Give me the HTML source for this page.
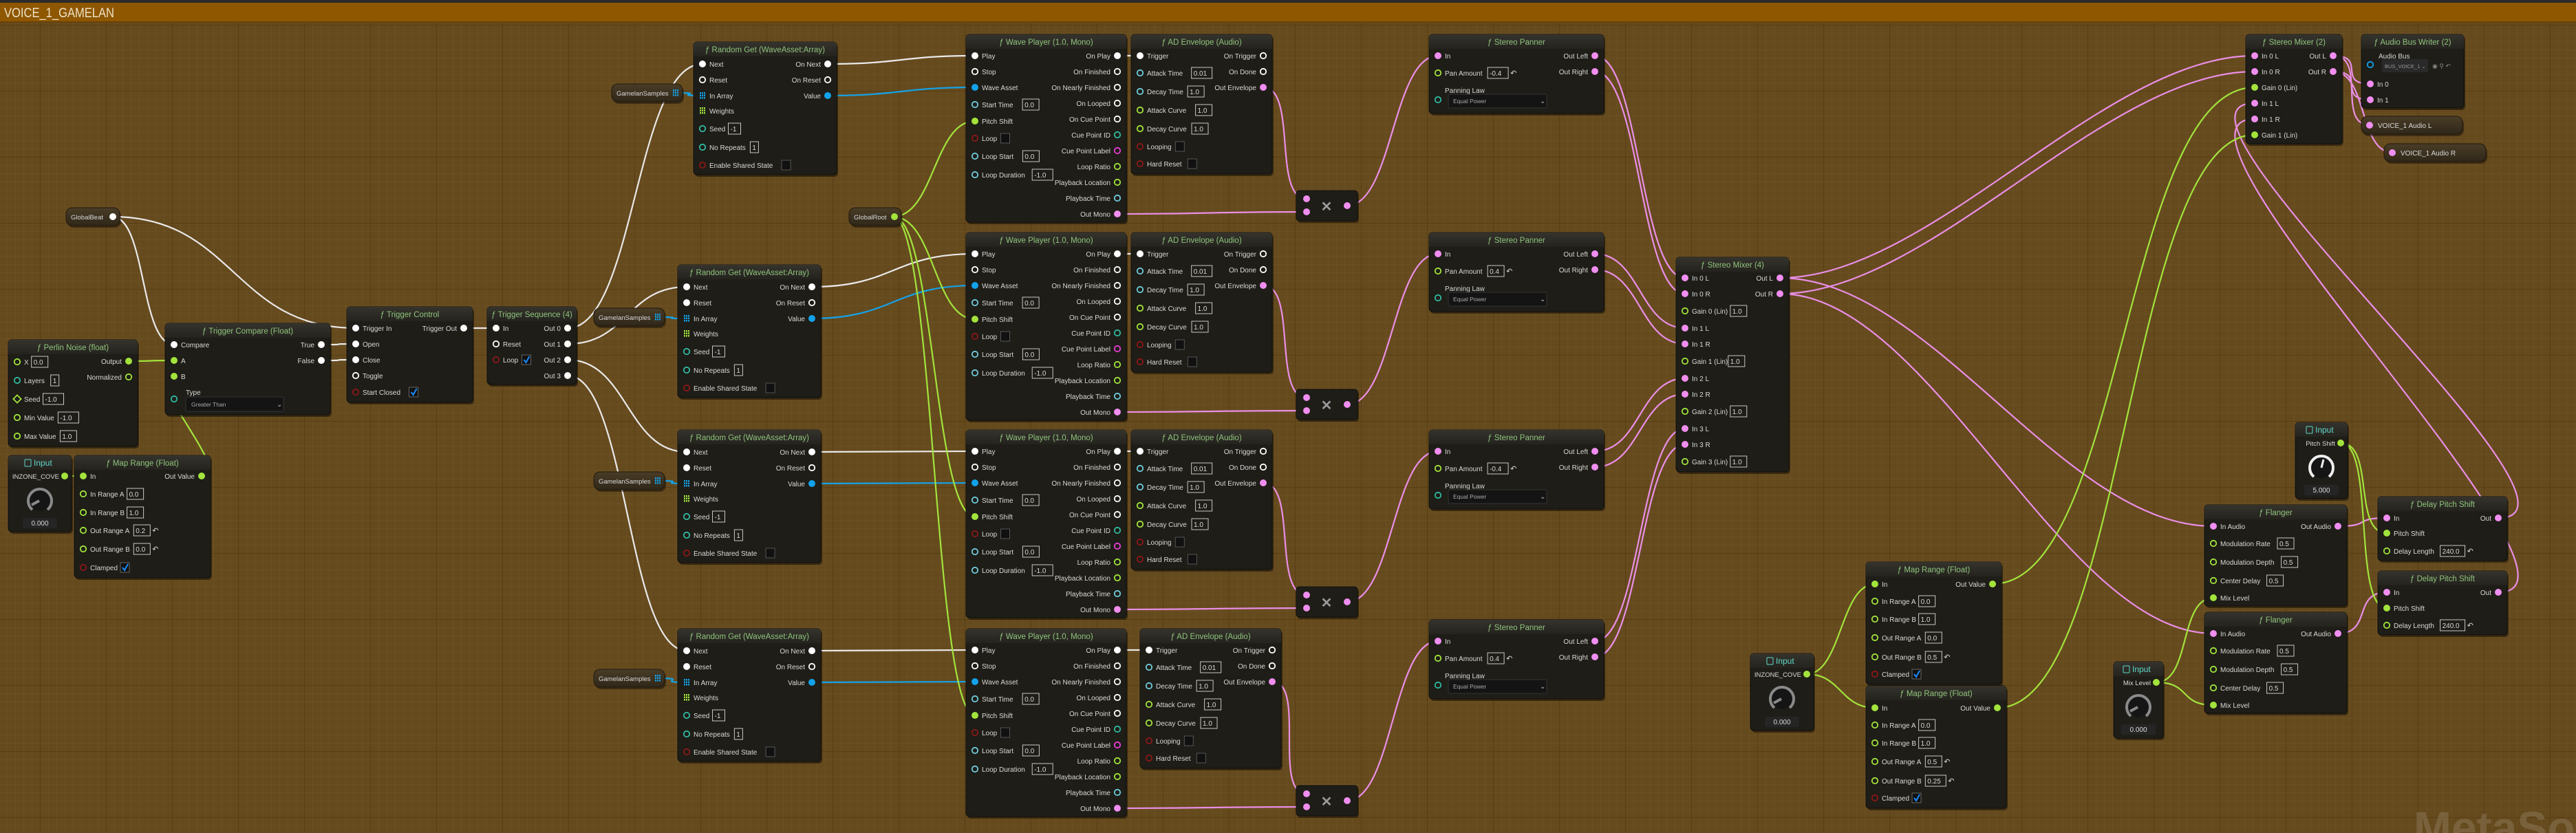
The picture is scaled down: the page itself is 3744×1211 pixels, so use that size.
<!DOCTYPE html>
<html><head><meta charset="utf-8"><style>
html,body{margin:0;padding:0;background:#654a1e;overflow:hidden}
svg{display:block}
text{font-family:"Liberation Sans",sans-serif}
</style></head><body>
<svg id="g" xmlns="http://www.w3.org/2000/svg" width="3744" height="1211" viewBox="0 0 3744 1211">
<defs>
<pattern id="minor" x="10" y="0" width="12" height="12" patternUnits="userSpaceOnUse"><path d="M0 0H12M0 0V12" stroke="#715529" stroke-width="1" fill="none"/></pattern>
<pattern id="major" x="58" y="36" width="96" height="96" patternUnits="userSpaceOnUse"><path d="M0 0H96M0 0V96" stroke="#553912" stroke-width="1.5" fill="none"/></pattern>
<linearGradient id="hd" x1="0" y1="0" x2="0" y2="1"><stop offset="0" stop-color="#35332c"/><stop offset="1" stop-color="#24231e"/></linearGradient>
<linearGradient id="pl" x1="0" y1="0" x2="0" y2="1"><stop offset="0" stop-color="#4a3d27"/><stop offset="1" stop-color="#2f2719"/></linearGradient>
</defs>
<rect width="3744" height="1211" fill="#654a1e"/>
<rect width="3744" height="1211" fill="url(#minor)"/>
<rect width="3744" height="1211" fill="url(#major)"/>
<rect x="0" y="0" width="3744" height="4" fill="#2b2b2b"/>
<rect x="0" y="4" width="3744" height="28" fill="#8e5700"/>
<rect x="0" y="31" width="3744" height="2" fill="#6a4106"/>
<text x="6" y="25" font-size="19" fill="#eee2c8" textLength="160" lengthAdjust="spacingAndGlyphs">VOICE_1_GAMELAN</text>
<g id="w"></g><g id="n"></g>
<text x="3508" y="1226" font-size="66" font-weight="bold" fill="#8a7456" opacity="0.55">MetaSound</text>
</svg>
<script>
var s='',ws='';
var C={x:'#ffffff',a:'#f08ef0',f:'#a2e43c',t:'#6fcbdc',i:'#2fb9a0',b:'#8b1818',w:'#12a2ea',m:'#e63cd4',ag:'#a2e43c',aw:'#12a2ea'};
function e(x){return x.replace(/&/g,'&amp;').replace(/</g,'&lt;')}
function T(x,y,str,o){o=o||{};s+='<text x="'+x+'" y="'+y+'" font-size="'+(o.sz||10)+'" fill="'+(o.c||'#d9d9d9')+'" text-anchor="'+(o.a||'start')+'"'+(o.b?' font-weight="bold"':'')+'>'+e(str)+'</text>';}
function R(x,y,w,h,f,st,rx){s+='<rect x="'+x+'" y="'+y+'" width="'+w+'" height="'+h+'" rx="'+(rx||0)+'" fill="'+f+'"'+(st?' stroke="'+st+'"':'')+'/>';}
function pin(x,y,ty,fl){
 if(ty=='aw'||ty=='ag'){var c=C[ty];for(var i=0;i<3;i++)for(var j=0;j<3;j++)s+='<rect x="'+(x-4+i*3)+'" y="'+(y-5+j*3.5)+'" width="2" height="2.5" fill="'+c+'"/>';return;}
 var c=C[ty];
 if(ty=='d'){s+='<rect x="'+(x-4)+'" y="'+(y-4)+'" width="8" height="8" transform="rotate(45 '+x+' '+y+')" fill="none" stroke="'+C.f+'" stroke-width="1.8"/>';return;}
 if(fl)s+='<circle cx="'+x+'" cy="'+y+'" r="5" fill="'+c+'"/>';
 else s+='<circle cx="'+x+'" cy="'+y+'" r="4.2" fill="none" stroke="'+c+'" stroke-width="1.8"/>';
}
function val(x,y,v){
 if(v=='chk'){R(x,y-7,13,14,'#111','#666');s+='<path d="M'+(x+3)+' '+(y)+'l3 4 5-9" stroke="#1a8cff" stroke-width="2" fill="none"/>';return;}
 if(v=='box'){R(x,y-7,13,14,'#111','#555');return;}
 var r=false;if(v.slice(-1)=='~'){r=true;v=v.slice(0,-1);}
 var w=v.length*6+6;
 s+='<rect x="'+x+'" y="'+(y-8)+'" width="'+w+'" height="16" fill="none" stroke="#c8c8c8" stroke-width="1"/>';
 T(x+3,y+4,v,{sz:10});
 if(r)T(x+w+3,y+4,'↶',{sz:11});
}
function tw(str){var w=0;for(var i=0;i<str.length;i++){var c=str[i];w+=(c==' '?2.8:/[il1\.I\(\)]/.test(c)?2.6:/[mwMW]/.test(c)?8.3:/[A-Z]/.test(c)?6.7:5.6);}return w;}
function N(x,y,w,h,title,L,Rr,inp){
 R(x+2,y+3,w,h,'rgba(0,0,0,0.45)',0,5);
 R(x,y,w,h,'#1e1d17','#0f0f0c',5);
 s+='<path d="M'+x+' '+(y+21)+'V'+(y+5)+'q0 -5 5 -5H'+(x+w-5)+'q5 0 5 5V'+(y+21)+'Z" fill="url(#hd)"/>';
 if(inp){R(x+w/2-22,y+6,9,10,'none','#5fd8c8',1);T(x+w/2-9,y+15,'Input',{sz:12,c:'#5fd8c8',b:0});}
 else T(x+w/2,y+15,'ƒ '+title,{sz:11.5,c:'#8fc47c',a:'middle'});
 (L||[]).forEach(function(r){var yy=y+r[0];pin(x+13,yy,r[2],r[3]);T(x+23,yy+4,r[1]);if(r[4]!==undefined)val(x+27+tw(r[1]),yy,r[4]);});
 (Rr||[]).forEach(function(r){var yy=y+r[0];pin(x+w-13,yy,r[2],r[3]);T(x+w-23,yy+4,r[1],{a:'end'});});
}
function pill(x,y,w,label,ty,left){
 R(x+2,y+3,w,26,'rgba(0,0,0,0.4)',0,9);
 R(x,y,w,26,'url(#pl)','#1e170c',9);
 if(left){pin(x+12,y+13,ty,1);T(x+24,y+17,label);}
 else{T(x+7,y+17,label,{sz:9.5});pin(x+w-10,y+13,ty,1);}
}
function knob(cx,cy,col){
 s+='<circle cx="'+cx+'" cy="'+cy+'" r="15" fill="#151515"/>';
 s+='<path d="M'+(cx-11)+' '+(cy+13)+'A17 17 0 1 1 '+(cx+11)+' '+(cy+13)+'" fill="none" stroke="'+col+'" stroke-width="4"/>';
}
function inputNode(x,y,w,h,label,v,white){
 N(x,y,w,h,'',[],[],1);
 T(x+w-18,y+34,label,{a:'end',sz:9.5});pin(x+w-10,y+30,'f',1);
 knob(x+w/2,y+66,white?'#eeeeee':'#8a8a8a');
 if(white)s+='<path d="M'+(x+w/2)+' '+(y+66)+'l3 -12" stroke="#eee" stroke-width="3"/>';
 else s+='<path d="M'+(x+w/2-12)+' '+(y+72)+'l11 -6" stroke="#8a8a8a" stroke-width="4"/>';
 R(x+w/2-25,y+h-20,50,15,'#252525',0,2);T(x+w/2,y+h-9,v,{a:'middle',sz:10});
}
function W(c,x1,y1,x2,y2){var d=Math.max(50,Math.min(220,Math.abs(x2-x1)*0.5));
 ws+='<path d="M'+x1+' '+y1+'C'+(x1+d)+' '+y1+' '+(x2-d)+' '+y2+' '+x2+' '+y2+'" fill="none" stroke="'+c+'" stroke-width="2.2"/>';}
var WX='#e9e9e9',WP='#ea8ee6',WG='#a2e43c',WB='#15a2e6';

pill(96,302,78,'GlobalBeat','x');
N(12,494,188,155,'Perlin Noise (float)',[[32,'X','f',0,'0.0'],[59,'Layers','i',0,'1'],[86,'Seed','d',0,'-1.0'],[113,'Min Value','f',0,'-1.0'],[140,'Max Value','f',0,'1.0']],[[31,'Output','f',1],[54,'Normalized','f',0]]);
inputNode(12,662,92,111,'INZONE_COVE','0.000');
N(108,662,198,178,'Map Range (Float)',[[30,'In','f',1],[56,'In Range A','f',0,'0.0'],[83,'In Range B','f',0,'1.0'],[109,'Out Range A','f',0,'0.2~'],[136,'Out Range B','f',0,'0.0~'],[163,'Clamped','b',0,'chk']],[[30,'Out Value','f',1]]);
N(240,470,240,133,'Trigger Compare (Float)',[[31,'Compare','x',1],[54,'A','f',1],[77,'B','f',1]],[[31,'True','x',1],[54,'False','x',1]]);
T(270,574,'Type');pin(253,580,'i',0);R(270,577,142,21,'#141414','#333',2);T(278,591,'Greater Than',{sz:8.5,c:'#aaa'});T(402,591,'⌄',{sz:10,c:'#bbb'});
N(504,446,183,139,'Trigger Control',[[31,'Trigger In','x',1],[54,'Open','x',1],[77,'Close','x',1],[100,'Toggle','x',0],[124,'Start Closed','b',0,'chk']],[[31,'Trigger Out','x',1]]);
N(708,446,130,113,'Trigger Sequence (4)',[[31,'In','x',1],[54,'Reset','x',0],[77,'Loop','b',0,'chk']],[[31,'Out 0','x',1],[54,'Out 1','x',1],[77,'Out 2','x',1],[100,'Out 3','x',1]]);

var RG=[[1008,61],[985,385],[985,625],[985,914]],GS=[[889,122],[863,448],[863,686],[863,973]];
var WY=[50,338,625,914],ADX=[1644,1644,1644,1657],MY=[277,566,853,1142],SY=[50,338,625,901],PAN=['-0.4~','0.4~','-0.4~','0.4~'];
for(var k=0;k<4;k++){
 var rx=RG[k][0],ry=RG[k][1];
 N(rx,ry,208,193,'Random Get (WaveAsset:Array)',[[32,'Next','x',1],[55,'Reset','x',k==0?0:1],[78,'In Array','aw',1],[100,'Weights','ag',1],[126,'Seed','i',0,'-1'],[153,'No Repeats','i',0,'1'],[179,'Enable Shared State','b',0,'box']],[[32,'On Next','x',1],[55,'On Reset','x',0],[78,'Value','w',1]]);
 pill(GS[k][0],GS[k][1],103,'GamelanSamples','aw');
 var wy=WY[k];
 N(1404,wy,233,273,'Wave Player (1.0, Mono)',[[31,'Play','x',1],[54,'Stop','x',0],[77,'Wave Asset','w',1],[102,'Start Time','t',0,'0.0'],[126,'Pitch Shift','f',1],[151,'Loop','b',0,'box'],[177,'Loop Start','t',0,'0.0'],[204,'Loop Duration','t',0,'-1.0']],
  [[31,'On Play','x',1],[54,'On Finished','x',0],[77,'On Nearly Finished','x',0],[100,'On Looped','x',0],[123,'On Cue Point','x',0],[146,'Cue Point ID','i',0],[169,'Cue Point Label','m',0],[192,'Loop Ratio','f',0],[215,'Playback Location','f',0],[238,'Playback Time','t',0],[261,'Out Mono','a',1]]);
 var ax=ADX[k];
 N(ax,wy,205,203,'AD Envelope (Audio)',[[31,'Trigger','x',1],[56,'Attack Time','t',0,'0.01'],[83,'Decay Time','t',0,'1.0'],[110,'Attack Curve','f',0,'1.0'],[137,'Decay Curve','f',0,'1.0'],[163,'Looping','b',0,'box'],[188,'Hard Reset','b',0,'box']],[[31,'On Trigger','x',0],[54,'On Done','x',0],[77,'Out Envelope','a',1]]);
 var my=MY[k];
 R(1886,my+3,89,44,'rgba(0,0,0,0.45)',0,4);R(1884,my,89,44,'#1e1d17','#0f0f0c',4);
 pin(1899,my+12,'a',1);pin(1899,my+31,'a',1);pin(1958,my+22,'a',1);
 T(1928,my+30,'✕',{sz:20,c:'#9a9a9a',a:'middle',b:1});
 var sy=SY[k];
 N(2077,sy,254,115,'Stereo Panner',[[31,'In','a',1],[56,'Pan Amount','f',0,PAN[k]]],[[31,'Out Left','a',1],[54,'Out Right','a',1]]);
 T(2100,sy+85,'Panning Law');pin(2090,sy+95,'i',0);R(2105,sy+87,143,20,'#141414','#333',2);T(2112,sy+100,'Equal Power',{sz:8.5,c:'#aaa'});T(2238,sy+100,'⌄',{sz:10,c:'#bbb'});
 W(WX,825,477+23*k,rx+13,ry+32);
 W(WB,GS[k][0]+93,GS[k][1]+13,rx+13,ry+78);
 W(WX,rx+195,ry+32,1417,wy+31);
 W(WB,rx+195,ry+78,1417,wy+77);
 W(WG,1298,315,1417,wy+126);
 W(WX,1624,wy+31,ax+13,wy+31);
 W(WP,ax+192,wy+77,1899,my+12);
 W(WP,1624,wy+261,1899,my+31);
 W(WP,1958,my+22,2090,sy+31);
 W(WP,2318,sy+31,2449,404+73*k);
 W(WP,2318,sy+54,2449,427+73*k);
}
pill(1234,302,76,'GlobalRoot','f');

N(2436,374,164,312,'Stereo Mixer (4)',[[30,'In 0 L','a',1],[53,'In 0 R','a',1],[78,'Gain 0 (Lin)','f',0,'1.0'],[103,'In 1 L','a',1],[126,'In 1 R','a',1],[151,'Gain 1 (Lin)','f',0,'1.0'],[176,'In 2 L','a',1],[199,'In 2 R','a',1],[224,'Gain 2 (Lin)','f',0,'1.0'],[249,'In 3 L','a',1],[272,'In 3 R','a',1],[297,'Gain 3 (Lin)','f',0,'1.0']],[[30,'Out L','a',1],[53,'Out R','a',1]]);
N(3264,50,140,159,'Stereo Mixer (2)',[[31,'In 0 L','a',1],[54,'In 0 R','a',1],[77,'Gain 0 (Lin)','f',1],[100,'In 1 L','a',1],[123,'In 1 R','a',1],[146,'Gain 1 (Lin)','f',1]],[[31,'Out L','a',1],[54,'Out R','a',1]]);
N(3432,50,149,107,'Audio Bus Writer (2)',[[72,'In 0','a',1],[95,'In 1','a',1]],[]);
T(3457,85,'Audio Bus');pin(3445,94,'w',0);R(3462,86,67,19,'#2a2a2a',0,2);T(3466,99,'BUS_VOICE_1 ⌄',{sz:7.5,c:'#999'});T(3535,99,'◉ ⚲ ↶',{sz:9,c:'#888'});
pill(3432,169,147,'VOICE_1 Audio L','a',1);
pill(3465,209,148,'VOICE_1 Audio R','a',1);
inputNode(3336,614,76,111,'Pitch Shift','5.000',1);
N(3204,734,207,147,'Flanger',[[31,'In Audio','a',1],[56,'Modulation Rate','f',0,'0.5'],[83,'Modulation Depth','f',0,'0.5'],[110,'Center Delay','f',0,'0.5'],[135,'Mix Level','f',1]],[[31,'Out Audio','a',1]]);
N(3204,890,207,147,'Flanger',[[31,'In Audio','a',1],[56,'Modulation Rate','f',0,'0.5'],[83,'Modulation Depth','f',0,'0.5'],[110,'Center Delay','f',0,'0.5'],[135,'Mix Level','f',1]],[[31,'Out Audio','a',1]]);
N(3456,722,188,93,'Delay Pitch Shift',[[31,'In','a',1],[53,'Pitch Shift','f',1],[79,'Delay Length','f',0,'240.0~']],[[31,'Out','a',1]]);
N(3456,830,188,93,'Delay Pitch Shift',[[31,'In','a',1],[54,'Pitch Shift','f',1],[79,'Delay Length','f',0,'240.0~']],[[31,'Out','a',1]]);
N(2712,817,197,178,'Map Range (Float)',[[32,'In','f',1],[57,'In Range A','f',0,'0.0'],[83,'In Range B','f',0,'1.0'],[110,'Out Range A','f',0,'0.0'],[138,'Out Range B','f',0,'0.5~'],[163,'Clamped','b',0,'chk']],[[32,'Out Value','f',1]]);
N(2712,997,204,178,'Map Range (Float)',[[32,'In','f',1],[57,'In Range A','f',0,'0.0'],[83,'In Range B','f',0,'1.0'],[110,'Out Range A','f',0,'0.5~'],[138,'Out Range B','f',0,'0.25~'],[163,'Clamped','b',0,'chk']],[[32,'Out Value','f',1]]);
inputNode(2544,950,92,112,'INZONE_COVE','0.000');
inputNode(3072,962,72,111,'Mix Level','0.000');

W(WX,163,315,517,477);W(WX,163,315,253,501);
W(WG,186,525,253,524);W(WG,293,692,253,547);W(WG,94,692,121,692);
W(WX,467,501,517,500);W(WX,467,524,517,523);W(WX,674,477,721,477);
W(WP,2587,404,3277,81);W(WP,2587,427,3277,104);
W(WP,2587,404,3217,765);W(WP,2587,427,3217,921);
W(WP,3398,765,3469,753);W(WP,3398,921,3469,861);
W(WP,3631,753,3277,150);W(WP,3631,861,3277,173);
W(WG,3402,644,3469,775);W(WG,3402,644,3469,884);
W(WG,2896,849,3277,127);W(WG,2903,1029,3277,196);
W(WG,2626,980,2725,849);W(WG,2626,980,2725,1029);
W(WG,3134,992,3217,869);W(WG,3134,992,3217,1025);
W(WP,3391,81,3445,122);W(WP,3391,81,3445,182);
W(WP,3391,104,3445,145);W(WP,3391,104,3478,222);
document.getElementById('w').innerHTML=ws;
document.getElementById('n').innerHTML=s;
</script>
</body></html>
